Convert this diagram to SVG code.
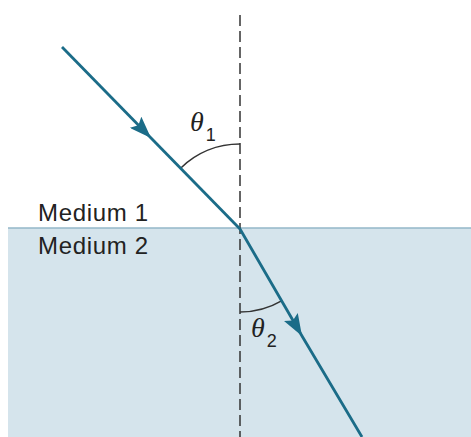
<svg xmlns="http://www.w3.org/2000/svg" width="471" height="437" viewBox="0 0 471 437">
<style>
.lbl{font-family:"Liberation Sans",Arial,sans-serif;font-size:24px;fill:#222}
.th{font-family:"Liberation Serif","Times New Roman",serif;font-style:italic;font-size:28px;fill:#222}
.sub{font-family:"Liberation Sans",Arial,sans-serif;font-size:18px;fill:#222}
.ray{fill:none;stroke:#1b6c88;stroke-width:2.8}
.arc{fill:none;stroke:#333;stroke-width:1.5}
</style>
<defs>
<marker id="ah" viewBox="0 0 22 16" refX="22" refY="8" markerWidth="22" markerHeight="16" markerUnits="userSpaceOnUse" orient="auto">
<path d="M0,0 L22,8 L0,16 L4,8 Z" fill="#1b6c88"/>
</marker>
</defs>
<g id="medium2">
<rect x="8" y="228" width="463" height="209" fill="#d5e4ec"/>
<line x1="8" y1="228" x2="471" y2="228" stroke="#93b7c9" stroke-width="1.5"/>
</g>
<g id="labels">
<text class="lbl" x="38" y="221" textLength="110">Medium 1</text>
<text class="lbl" x="38" y="254" textLength="110">Medium 2</text>
</g>
<g id="normal">
<line x1="240" y1="15" x2="240" y2="437" stroke="#333" stroke-width="1.5" stroke-dasharray="11 5"/>
</g>
<g id="angles">
<path class="arc" d="M240,144 A85,85 0 0 0 180.6,168.2"/>
<path class="arc" d="M240,312 A83,83 0 0 0 282,300.6"/>
<text class="th" x="190" y="131">θ<tspan class="sub" font-style="normal" dx="2" dy="10">1</tspan></text>
<text class="th" x="251" y="337">θ<tspan class="sub" font-style="normal" dx="2" dy="10">2</tspan></text>
</g>
<g id="connectors">
<path class="ray" d="M62,47 L151,138 L240,229" marker-mid="url(#ah)"/>
<path class="ray" d="M240,229 L302,336 L362,437" marker-mid="url(#ah)"/>
</g>
</svg>
